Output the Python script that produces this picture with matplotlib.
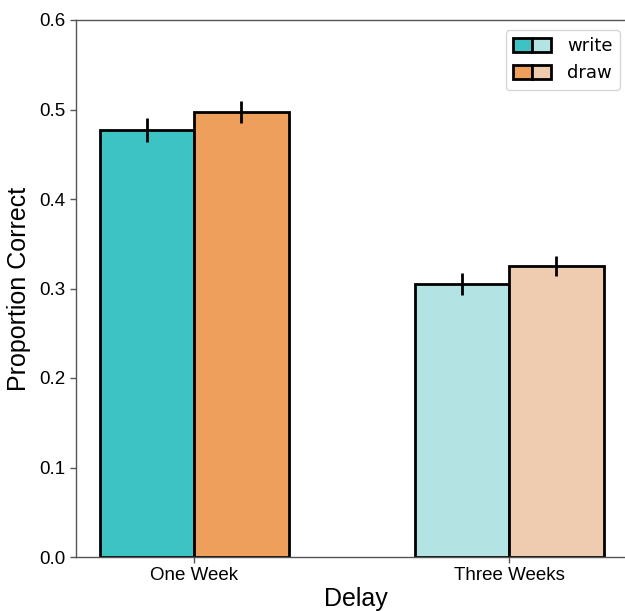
import matplotlib
matplotlib.use("Agg")
import matplotlib.pyplot as plt
import matplotlib.patches as mpatches
from matplotlib.legend_handler import HandlerTuple
import numpy as np

delays = ["One Week", "Three Weeks"]
conditions = ["write", "draw"]

write_means = [0.477, 0.305]
write_errs = [0.013, 0.012]
draw_means = [0.497, 0.325]
draw_errs = [0.012, 0.011]

# dark shade for one week, light shade for three weeks
write_colors = ["#3DC3C3", "#B3E3E2"]
draw_colors = ["#EE9F5C", "#EFCBB0"]

plt.rcParams["font.family"] = ["Liberation Sans", "DejaVu Sans"]

fig = plt.figure(figsize=(6.25, 6.11), dpi=100)
# right edge of the axes falls outside the picture, as in the reference
ax = fig.add_axes([76 / 625, 54 / 611, 560 / 625, 537 / 611])

x = np.arange(len(delays))
w = 0.3

ax.bar(x - w / 2, write_means, width=w, color=write_colors,
       edgecolor="black", linewidth=2, zorder=2)
ax.bar(x + w / 2, draw_means, width=w, color=draw_colors,
       edgecolor="black", linewidth=2, zorder=2)
ax.errorbar(x - w / 2, write_means, yerr=write_errs, fmt="none",
            ecolor="black", elinewidth=2, capsize=0, zorder=3)
ax.errorbar(x + w / 2, draw_means, yerr=draw_errs, fmt="none",
            ecolor="black", elinewidth=2, capsize=0, zorder=3)

ax.set_xlim(-0.375, -0.375 + 560 / 315)
ax.set_ylim(0, 0.6)
ax.set_xticks(x)
ax.set_xticklabels(delays, fontsize=13.5)
yt = np.arange(0, 0.61, 0.1)
ax.set_yticks(yt)
ax.set_yticklabels([f"{v:.1f}" for v in yt], fontsize=13.5)
ax.tick_params(colors="#555555", labelcolor="black", width=1, length=4)

ax.set_xlabel("Delay", fontsize=18, labelpad=2)
ax.set_ylabel("Proportion Correct", fontsize=18, labelpad=6)

for spine in ax.spines.values():
    spine.set_edgecolor("#555555")
    spine.set_linewidth(1)
ax.spines["right"].set_visible(False)

handles = [
    (mpatches.Patch(facecolor=write_colors[0], edgecolor="black", linewidth=2),
     mpatches.Patch(facecolor=write_colors[1], edgecolor="black", linewidth=2)),
    (mpatches.Patch(facecolor=draw_colors[0], edgecolor="black", linewidth=2),
     mpatches.Patch(facecolor=draw_colors[1], edgecolor="black", linewidth=2)),
]
ax.legend(handles, conditions, handler_map={tuple: HandlerTuple(ndivide=None, pad=0)},
          loc="upper right", bbox_to_anchor=(0.9875, 0.998),
          prop={"family": "DejaVu Sans", "size": 13},
          handlelength=2.1, handleheight=0.8, handletextpad=0.9)

fig.savefig("out.png", dpi=100)
